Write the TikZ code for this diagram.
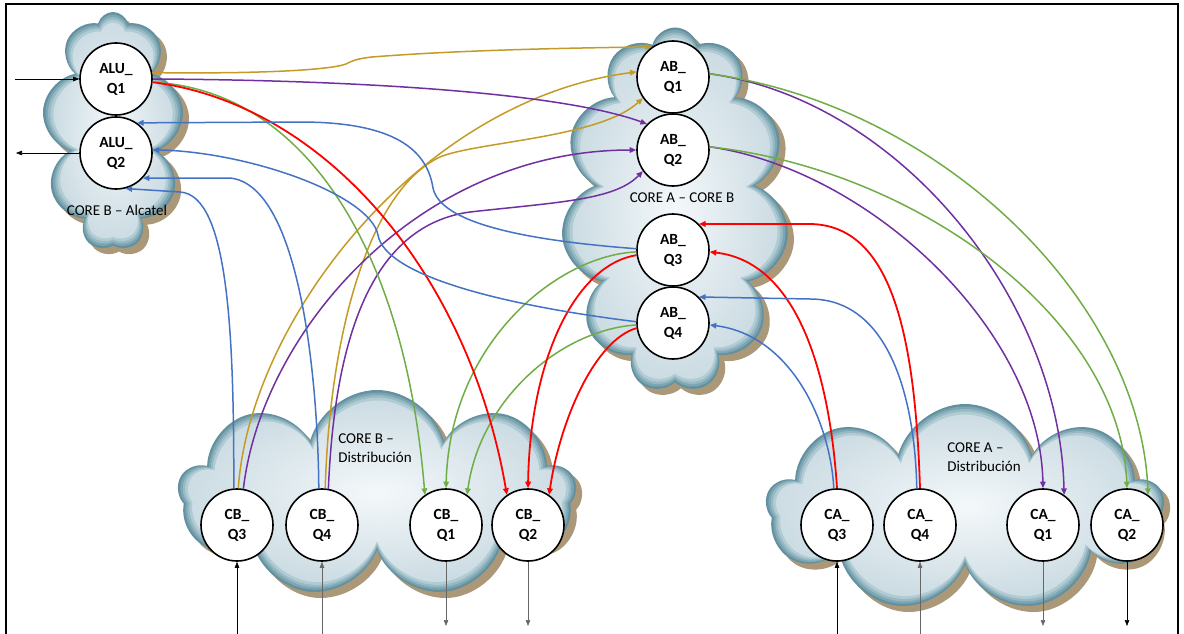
\documentclass[tikz,border=0pt]{standalone}
\usepackage{fontspec}
\setmainfont{Carlito}
\usetikzlibrary{shapes.symbols,arrows.meta}

\definecolor{cgold}{RGB}{196,155,38}
\definecolor{cpurple}{RGB}{112,48,160}
\definecolor{cgreen}{RGB}{112,173,71}
\definecolor{cred}{RGB}{255,0,0}
\definecolor{cblue}{RGB}{68,114,196}
\definecolor{cloudedge}{RGB}{100,145,160}
\definecolor{cloudA}{RGB}{125,165,178}
\definecolor{cloudB}{RGB}{150,185,196}
\definecolor{cloudC}{RGB}{176,203,212}
\definecolor{cloudmid}{RGB}{204,220,227}
\definecolor{cloudin}{RGB}{244,248,250}
\definecolor{cloudshadow}{RGB}{170,152,120}

\tikzset{
 qnode/.style={circle, draw=black, line width=1.6pt, fill=white, minimum size=72pt, inner sep=0pt,
   font=\fontsize{15.5}{20}\selectfont\bfseries, align=center},
 cbase/.style={cloud, cloud puffs=#1, cloud ignores aspect, draw=none, inner sep=0pt},
 con/.style={line width=1.5pt, -{Triangle[length=6.5pt,width=5.5pt]}},
 redcon/.style={line width=1.8pt, -{Triangle[length=6.5pt,width=5.5pt]}},
 io/.style={line width=0.6pt, black, -{Triangle[length=6pt,width=4.5pt]}},
 lbl/.style={font=\fontsize{15}{19}\selectfont, align=left, inner sep=0pt}
}

% #1 name, #2 x, #3 y, #4 width, #5 height, #6 puffs
\newcommand\drawmycloud[6]{%
 \node[cbase=#6, fill=cloudshadow, minimum width={#4pt}, minimum height={#5pt}, xshift=6pt, yshift=-6pt] (#1sh) at (#2,#3) {};
 \node[cbase=#6, fill=cloudedge, minimum width={#4pt}, minimum height={#5pt}] (#1) at (#2,#3) {};
 \node[cbase=#6, fill=cloudA, minimum width={#4pt-5pt}, minimum height={#5pt-5pt}] (#1a) at (#2,#3) {};
 \node[cbase=#6, fill=cloudB, minimum width={#4pt-10pt}, minimum height={#5pt-10pt}] (#1b) at (#2,#3) {};
 \node[cbase=#6, fill=cloudC, minimum width={#4pt-15pt}, minimum height={#5pt-15pt}] (#1c) at (#2,#3) {};
 \node[cbase=#6, inner color=cloudin, outer color=cloudmid, minimum width={#4pt-21pt}, minimum height={#5pt-21pt}] (#1d) at (#2,#3) {};
}

\begin{document}
\begin{tikzpicture}[x=1pt,y=-1pt]
\useasboundingbox (0,0) rectangle (1184,634);
\fill[white] (0,0) rectangle (1184,634);

% clouds
\drawmycloud{cALU}{113}{131}{142}{238}{9}
\drawmycloud{cAB}{675}{210}{228}{365}{11}
\drawmycloud{cCB}{377}{494}{398}{208}{9}
\drawmycloud{cCA}{965}{508}{398}{208}{9}

% frame
\draw[line width=1.5pt] (6,634) -- (6,4) -- (1178,4) -- (1178,634);

% cloud labels
\node[lbl] (lALU) at (117,210) {CORE B – Alcatel};
\node[lbl] (lAB) at (682,198) {CORE A – CORE B};
\node[lbl] (lCB) at (375,448) {CORE B –\\Distribución};
\node[lbl] (lCA) at (984,457) {CORE A –\\Distribución};

% nodes
\node[qnode] (ALU1) at (116,79) {ALU\_\\Q1};
\node[qnode] (ALU2) at (116,153) {ALU\_\\Q2};
\node[qnode] (AB1) at (673,77) {AB\_\\Q1};
\node[qnode] (AB2) at (673,150) {AB\_\\Q2};
\node[qnode] (AB3) at (673,250) {AB\_\\Q3};
\node[qnode] (AB4) at (673,323) {AB\_\\Q4};
\node[qnode] (CB3) at (237,525) {CB\_\\Q3};
\node[qnode] (CB4) at (322,525) {CB\_\\Q4};
\node[qnode] (CB1) at (446,525) {CB\_\\Q1};
\node[qnode] (CB2) at (528,525) {CB\_\\Q2};
\node[qnode] (CA3) at (837,525) {CA\_\\Q3};
\node[qnode] (CA4) at (920,525) {CA\_\\Q4};
\node[qnode] (CA1) at (1043,525) {CA\_\\Q1};
\node[qnode] (CA2) at (1127,525) {CA\_\\Q2};

% input / output arrows
\coordinate (inALU) at (15,79);
\coordinate (outALU) at (16,153);
\coordinate (inCB3) at (237,634);
\coordinate (inCB4) at (322,634);
\coordinate (outCB1) at (446,626);
\coordinate (outCB2) at (528,626);
\coordinate (inCA3) at (837,634);
\coordinate (inCA4) at (920,634);
\coordinate (outCA1) at (1043,626);
\coordinate (outCA2) at (1127,626);
\draw[io] (inALU) -- (ALU1.west);
\draw[io] (ALU2.west) -- (outALU);
\draw[io] (inCB3) -- (CB3.south);
\draw[io,black!60] (inCB4) -- (CB4.south);
\draw[io,black!60] (CB1.south) -- (outCB1);
\draw[io,black!60] (CB2.south) -- (outCB2);
\draw[io] (inCA3) -- (CA3.south);
\draw[io,black!60] (inCA4) -- (CA4.south);
\draw[io,black!60] (CA1.south) -- (outCA1);
\draw[io] (CA2.south) -- (outCA2);

% gold
\draw[con,cgold] (ALU1.10) .. controls (260,74) and (330,70) .. (346,64) .. controls (352,61) and (355,59) .. (372,57) .. controls (460,50) and (570,48) .. (AB1.125);
\draw[con,cgold] (CB3.88) .. controls (250,320) and (420,100) .. (AB1.172);
\draw[con,cgold] (CB4.85) .. controls (330,330) and (370,190) .. (440,157) .. controls (475,142) and (600,138) .. (AB1.215);

% purple
\draw[con,cpurple] (ALU1.east) .. controls (350,80) and (560,92) .. (AB2.135);
\draw[con,cpurple] (CB3.80) .. controls (262,330) and (420,150) .. (AB2.180);
\draw[con,cpurple] (CB4.80) .. controls (335,330) and (375,225) .. (470,212) .. controls (560,202) and (615,200) .. (AB2.215);
\draw[con,cpurple] (AB1.5) .. controls (900,100) and (1060,300) .. (CA1.55);
\draw[con,cpurple] (AB2.5) .. controls (870,170) and (1040,330) .. (CA1.north);

% green
\draw[con,cgreen] (ALU1.-5) .. controls (305,90) and (405,250) .. (CB1.125);
\draw[con,cgreen] (AB3.183) .. controls (560,255) and (450,340) .. (CB1.north);
\draw[con,cgreen] (AB4.183) .. controls (560,330) and (480,400) .. (CB1.55);
\draw[con,cgreen] (AB1.5) .. controls (940,105) and (1140,300) .. (CA2.55);
\draw[con,cgreen] (AB2.5) .. controls (920,170) and (1120,320) .. (CA2.north);

% red
\draw[redcon,cred] (ALU1.-5) .. controls (330,105) and (470,280) .. (CB2.125);
\draw[redcon,cred] (AB3.188) .. controls (575,265) and (530,360) .. (CB2.north);
\draw[redcon,cred] (AB4.188) .. controls (595,340) and (560,420) .. (CB2.55);
\draw[redcon,cred] (CA3.north) .. controls (830,380) and (800,262) .. (AB3.-3);
\draw[redcon,cred] (CA4.north) .. controls (915,330) and (890,225) .. (810,224) -- (AB3.45);

% blue
\draw[con,cblue] (AB3.178) .. controls (520,240) and (440,222) .. (433,188) .. controls (427,150) and (395,122) .. (300,122) -- (ALU2.55);
\draw[con,cblue] (AB4.178) .. controls (500,305) and (385,275) .. (378,235) .. controls (370,195) and (250,152) .. (ALU2.5);
\draw[con,cblue] (CB4.95) .. controls (318,380) and (300,185) .. (230,178) -- (ALU2.-43);
\draw[con,cblue] (CB3.95) .. controls (234,330) and (228,195) .. (180,192) -- (ALU2.-75);
\draw[con,cblue] (CA3.95) .. controls (830,420) and (790,335) .. (AB4.-3);
\draw[con,cblue] (CA4.95) .. controls (915,400) and (890,299) .. (810,299) -- (AB4.45);
\end{tikzpicture}
\end{document}
